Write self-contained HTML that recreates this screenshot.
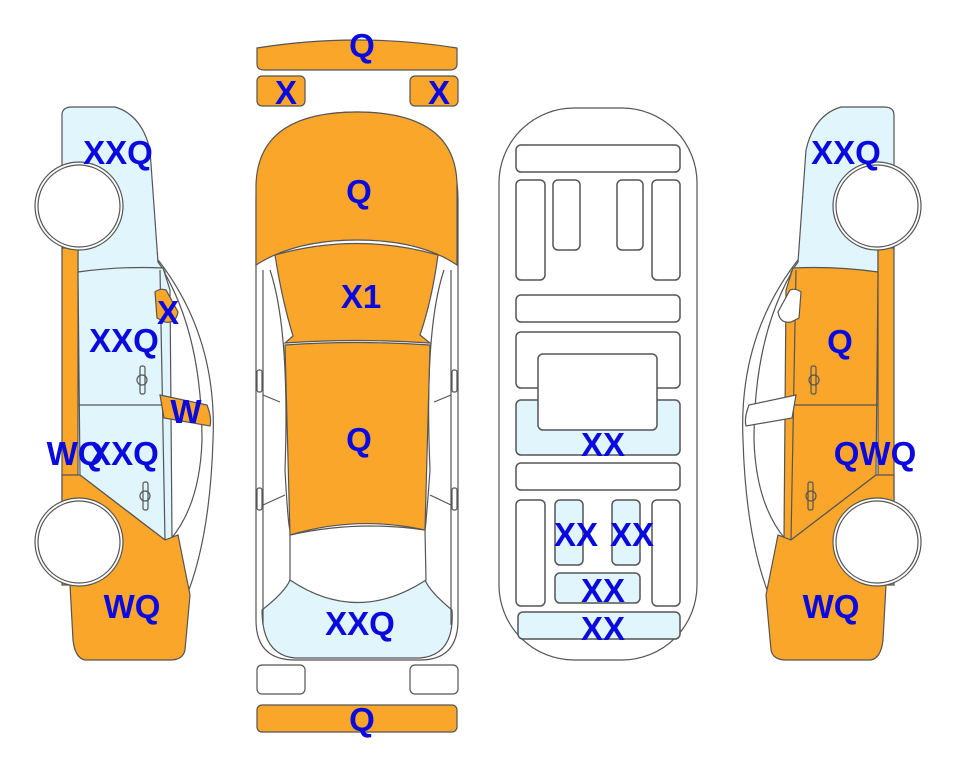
<!DOCTYPE html>
<html><head><meta charset="utf-8"><style>
html,body{margin:0;padding:0;background:#fff;}
svg{display:block;}
text{font-family:"Liberation Sans",sans-serif;font-weight:bold;fill:#0a0ade;text-anchor:middle;}
</style></head><body>
<svg width="963" height="768" viewBox="0 0 963 768" xmlns="http://www.w3.org/2000/svg">
<g stroke="#555" stroke-width="1.2">
<!-- LEFT CAR -->
<path d="M150,250 Q218,330 213,440 Q210,540 185,600" fill="none"/>
<path d="M158,262 Q202,330 202,440 Q200,505 170,540" fill="none"/>
<path d="M62,250 L62,115 Q62,107 72,107 L115,107 Q142,115 150,150 L158,262 L165,272 L78,272 L78,250 Z" fill="#e0f5fc"/>
<rect x="62" y="248" width="16" height="255" fill="#f9a62b"/>
<path d="M78,272 Q120,266 163,268 L170,290 L172,538 L165,540 L80,475 Z" fill="#e0f5fc"/>
<path d="M62,500 L62,475 L80,475 L165,540 L178,535 L190,595 L185,650 Q183,660 170,660 L85,660 Q75,658 73,640 L70,585 L62,585 Z" fill="#f9a62b"/>
<line x1="78" y1="405" x2="165" y2="405"/>
<line x1="160" y1="270" x2="165" y2="540"/>
<path d="M155,292 Q160,288 166,290 L178,312 Q176,324 165,322 L157,318 Z" fill="#f9a62b"/>
<path d="M160,395 L207,405 Q212,418 210,426 L164,418 Z" fill="#f9a62b"/>
<rect x="140" y="366" width="5" height="28" rx="2" fill="none"/>
<circle cx="142" cy="380" r="5" fill="none"/>
<rect x="143" y="482" width="5" height="28" rx="2" fill="none"/>
<circle cx="145" cy="496" r="5" fill="none"/>
<circle cx="79" cy="206" r="44" fill="#fff"/>
<circle cx="79" cy="206" r="41" fill="#fff"/>
<circle cx="79" cy="542" r="44" fill="#fff"/>
<circle cx="79" cy="542" r="41" fill="#fff"/>

<!-- RIGHT CAR (mirrored) -->
<g transform="translate(956,0) scale(-1,1)">
<path d="M150,250 Q218,330 213,440 Q210,540 185,600" fill="none"/>
<path d="M158,262 Q202,330 202,440 Q200,505 170,540" fill="none"/>
<path d="M62,250 L62,115 Q62,107 72,107 L115,107 Q142,115 150,150 L158,262 L165,272 L78,272 L78,250 Z" fill="#e0f5fc"/>
<rect x="62" y="248" width="16" height="255" fill="#f9a62b"/>
<path d="M78,272 Q120,266 163,268 L170,290 L172,538 L165,540 L80,475 Z" fill="#f9a62b"/>
<path d="M62,500 L62,475 L80,475 L165,540 L178,535 L190,595 L185,650 Q183,660 170,660 L85,660 Q75,658 73,640 L70,585 L62,585 Z" fill="#f9a62b"/>
<line x1="78" y1="405" x2="165" y2="405"/>
<line x1="160" y1="270" x2="165" y2="540"/>
<path d="M155,292 Q160,288 166,290 L178,312 Q176,324 165,322 L157,318 Z" fill="#fff"/>
<path d="M160,395 L207,405 Q212,418 210,426 L164,418 Z" fill="#fff"/>
<rect x="140" y="366" width="5" height="28" rx="2" fill="none"/>
<circle cx="142" cy="380" r="5" fill="none"/>
<rect x="143" y="482" width="5" height="28" rx="2" fill="none"/>
<circle cx="145" cy="496" r="5" fill="none"/>
<circle cx="79" cy="206" r="44" fill="#fff"/>
<circle cx="79" cy="206" r="41" fill="#fff"/>
<circle cx="79" cy="542" r="44" fill="#fff"/>
<circle cx="79" cy="542" r="41" fill="#fff"/>
</g>

<!-- TOP VIEW -->
<path d="M257,48 Q357,32 457,48 L457,64 Q457,70 450,70 L264,70 Q257,70 257,64 Z" fill="#f9a62b"/>
<rect x="257" y="76" width="48" height="30" rx="5" fill="#f9a62b"/>
<rect x="410" y="76" width="48" height="30" rx="5" fill="#f9a62b"/>
<path d="M256,200 Q256,112 357,112 Q458,112 458,200 L458,620 Q458,660 420,660 L295,660 Q256,660 256,620 Z" fill="#fff"/>
<path d="M262,610 Q285,592 290,580 Q357,620 425,580 Q430,592 452,610 Q455,655 420,658 L295,658 Q262,655 262,610 Z" fill="#e0f5fc"/>
<path d="M290,535 Q357,520 425,530 L426,580 Q357,625 290,580 Z" fill="#fff"/>
<path d="M263,270 L263,625 M451,270 L451,625" fill="none"/>
<path d="M270,270 Q290,330 285,470 Q288,525 290,530 M444,270 Q424,330 430,470 Q426,525 425,530" fill="none"/>
<path d="M263,395 L280,402 M451,395 L434,402 M263,505 L285,495 M451,505 L430,495" fill="none"/>
<rect x="257" y="370" width="5" height="22" rx="2" fill="none"/>
<rect x="452" y="370" width="5" height="22" rx="2" fill="none"/>
<rect x="257" y="488" width="5" height="22" rx="2" fill="none"/>
<rect x="452" y="488" width="5" height="22" rx="2" fill="none"/>
<path d="M256,265 L256,185 Q258,112 357,112 Q456,112 457,185 L457,265 Q420,240 357,240 Q295,240 256,265 Z" fill="#f9a62b"/>
<path d="M275,255 Q357,232 438,255 Q432,300 420,335 L430,343 Q357,338 285,343 L293,336 Q282,300 275,255 Z" fill="#f9a62b"/>
<path d="M285,345 Q357,340 430,345 L425,530 Q357,515 290,535 Z" fill="#f9a62b"/>
<rect x="257" y="665" width="48" height="29" rx="5" fill="#fff"/>
<rect x="410" y="665" width="48" height="29" rx="5" fill="#fff"/>
<rect x="257" y="705" width="200" height="27" rx="5" fill="#f9a62b"/>

<!-- UNDERBODY -->
<rect x="499" y="108" width="198" height="552" rx="75" fill="#fff"/>
<g stroke-width="1.5">
<rect x="516" y="145" width="164" height="27" rx="5" fill="#fff"/>
<rect x="516" y="180" width="29" height="100" rx="5" fill="#fff"/>
<rect x="553" y="180" width="27" height="70" rx="5" fill="#fff"/>
<rect x="617" y="180" width="26" height="70" rx="5" fill="#fff"/>
<rect x="652" y="180" width="28" height="100" rx="5" fill="#fff"/>
<rect x="516" y="295" width="164" height="27" rx="5" fill="#fff"/>
<rect x="516" y="332" width="164" height="56" rx="5" fill="#fff"/>
<rect x="516" y="400" width="164" height="55" rx="5" fill="#e0f5fc"/>
<rect x="538" y="354" width="119" height="76" rx="5" fill="#fff"/>
<rect x="516" y="463" width="164" height="27" rx="5" fill="#fff"/>
<rect x="516" y="500" width="29" height="106" rx="5" fill="#fff"/>
<rect x="652" y="500" width="28" height="106" rx="5" fill="#fff"/>
<rect x="555" y="500" width="28" height="65" rx="5" fill="#e0f5fc"/>
<rect x="612" y="500" width="28" height="65" rx="5" fill="#e0f5fc"/>
<rect x="555" y="573" width="85" height="30" rx="5" fill="#e0f5fc"/>
<rect x="518" y="612" width="162" height="27" rx="5" fill="#e0f5fc"/>
</g>
</g>

<!-- LABELS -->
<g font-size="33">
<text x="362" y="57">Q</text>
<text x="286" y="104">X</text>
<text x="439" y="104">X</text>
<text x="359" y="203">Q</text>
<text x="361" y="308">X1</text>
<text x="359" y="451">Q</text>
<text x="360" y="635">XXQ</text>
<text x="362" y="731">Q</text>
<text x="118" y="164">XXQ</text>
<text x="124" y="352">XXQ</text>
<text x="168" y="324">X</text>
<text x="186" y="423">W</text>
<text x="75" y="465">WQ</text>
<text x="124" y="465">XXQ</text>
<text x="132" y="618">WQ</text>
<text x="846" y="164">XXQ</text>
<text x="840" y="353">Q</text>
<text x="875" y="465">QWQ</text>
<text x="831" y="618">WQ</text>
<text x="603" y="456">XX</text>
<text x="576" y="546">XX</text>
<text x="632" y="546">XX</text>
<text x="603" y="602">XX</text>
<text x="603" y="640">XX</text>
</g>
</svg>
</body></html>
